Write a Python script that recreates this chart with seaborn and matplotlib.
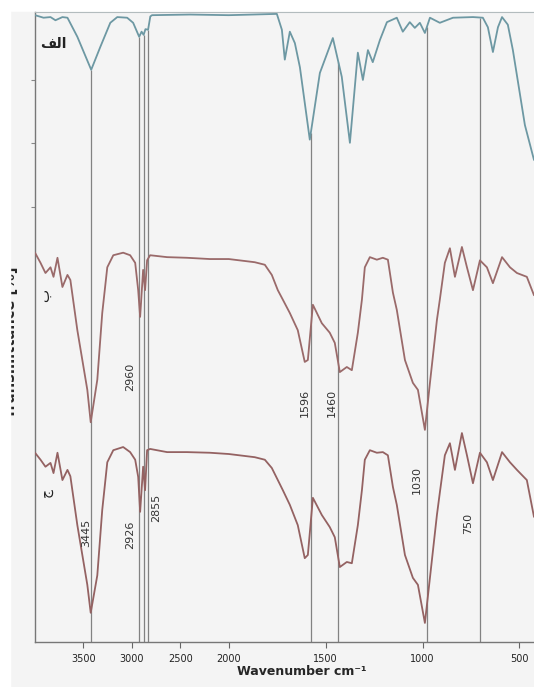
import numpy as np
import pandas as pd
import seaborn as sns
import matplotlib
matplotlib.use("Agg")
import matplotlib.pyplot as plt
from matplotlib.patches import Rectangle

#%% DATA
# trace "alef" (top)
wn_a = [4000, 3912, 3840, 3789, 3717, 3665, 3563, 3420, 3326, 3223, 3151, 3049,
        2987, 2925, 2900, 2879, 2860, 2833, 2810, 2792, 2400, 2000, 1752, 1726,
        1711, 1685, 1659, 1633, 1582, 1530, 1463, 1417, 1375, 1334, 1308, 1282,
        1257, 1220, 1184, 1133, 1102, 1066, 1040, 1014, 988, 962, 911, 843, 740,
        689, 663, 637, 611, 590, 560, 534, 472, 425]
tr_a = [100.2, 99.8, 99.9, 99.4, 99.9, 99.8, 96.8, 91.6, 95.2, 99.0, 99.9, 99.8,
        99.0, 96.8, 97.6, 97.1, 98.0, 97.9, 100.0, 100.2, 100.3, 100.2, 100.4, 97.9,
        93.2, 97.6, 95.8, 92.0, 80.6, 91.1, 96.6, 90.5, 80.1, 94.3, 90.0, 94.7,
        92.8, 96.3, 99.1, 99.8, 97.6, 99.1, 98.2, 99.0, 97.4, 99.8, 99.0, 99.8, 99.9,
        99.8, 98.3, 94.4, 98.3, 99.9, 98.7, 94.7, 82.9, 77.4]

# traces "be" (middle) and "jim" (bottom) share the same wavenumbers
wn_bc = [4000, 3943, 3892, 3840, 3809, 3768, 3717, 3665, 3635, 3563, 3460, 3425,
         3357, 3306, 3254, 3192, 3090, 3018, 2966, 2935, 2915, 2884, 2864, 2843,
         2812, 2637, 2432, 2195, 2000, 1866, 1814, 1778, 1747, 1721, 1685, 1644,
         1608, 1592, 1566, 1520, 1479, 1453, 1427, 1391, 1365, 1334, 1313, 1298,
         1272, 1236, 1205, 1179, 1153, 1133, 1091, 1050, 1024, 988, 962, 926, 911,
         885, 859, 833, 797, 771, 740, 704, 668, 637, 590, 549, 513, 462, 425]
tr_b = [62.8, 61.2, 59.6, 60.5, 59.0, 62.0, 57.4, 59.3, 58.5, 50.6, 41.2, 36.1,
        42.8, 53.3, 60.5, 62.4, 62.8, 62.4, 61.2, 56.9, 52.7, 60.1, 56.9, 61.6,
        62.4, 62.1, 62.0, 61.8, 61.8, 61.3, 60.9, 59.3, 56.9, 55.4, 53.3, 50.6,
        45.6, 45.9, 54.6, 51.7, 50.2, 48.6, 44.0, 44.8, 44.3, 50.2, 55.4, 60.5,
        62.1, 61.7, 62.0, 61.7, 56.5, 53.8, 45.9, 42.3, 41.2, 34.9, 42.3, 52.2, 55.4,
        61.2, 63.5, 59.0, 63.7, 60.5, 56.9, 61.6, 60.5, 58.0, 62.1, 60.5, 59.6, 59.0, 56.1]
tr_c = [31.3, 30.2, 29.1, 29.7, 28.1, 31.3, 27.0, 28.6, 27.6, 19.9, 10.5, 6.1,
        12.0, 22.3, 29.8, 31.7, 32.2, 31.4, 30.2, 27.5, 22.0, 29.1, 25.4, 31.7,
        31.9, 31.4, 31.4, 31.3, 31.1, 30.6, 30.2, 28.9, 27.0, 25.4, 23.1, 19.9,
        14.7, 15.2, 24.2, 21.5, 19.6, 18.0, 13.3, 14.1, 13.9, 19.9, 25.4, 30.2,
        31.7, 31.3, 31.4, 30.9, 25.9, 23.1, 15.2, 11.6, 10.5, 4.5, 11.6, 21.5, 25.0,
        30.9, 32.8, 28.6, 34.4, 30.9, 26.5, 31.3, 29.8, 27.0, 31.4, 29.8, 28.6, 27.0, 21.2]

# marked bands
peak_pos = [3420, 2925, 2879, 2833, 1577, 1435, 978, 704]
peak_labels = ['3445', '2960', '2926', '2855', '1596', '1460', '1030', '750']
peak_text_x = [3470, 3018, 3018, 2750, 1608, 1468, 1029, 766]
peak_text_y = [18.7, 43.2, 18.3, 22.6, 39.1, 39.1, 27.0, 20.1]

xticks = [3500, 3000, 2500, 2000, 1500, 1000, 500]

# sample names (Arabic letters, shaped forms for matplotlib)
name_a = '\ufed2\ufedf\ufe8d'   # الف
name_b = '\u0628'               # ب
name_c = '\u062c'               # ج

#%% PLOT
sns.set_theme(style='ticks')
plt.rcParams['font.family'] = ['DejaVu Sans']

df = pd.concat([
    pd.DataFrame({'wn': wn_a, 'T': tr_a, 'sample': 'a'}),
    pd.DataFrame({'wn': wn_bc, 'T': tr_b, 'sample': 'b'}),
    pd.DataFrame({'wn': wn_bc, 'T': tr_c, 'sample': 'c'}),
], ignore_index=True)

fig = plt.figure(figsize=(5.34, 6.87), dpi=100)
fig.patch.set_facecolor('white')
fig.add_artist(Rectangle((10/534, 0), 1, 675/687, transform=fig.transFigure,
                         color='#f4f4f4', zorder=-10))
ax = fig.add_axes([35/534, 45/687, 499/534, 630/687])
ax.set_facecolor('#f4f4f4')

sns.lineplot(data=df, x='wn', y='T', hue='sample',
             palette={'a': '#6d98a3', 'b': '#9a6a6a', 'c': '#946262'},
             estimator=None, sort=False, lw=1.3, legend=False, ax=ax, zorder=3)

# broken wavenumber axis: half scale above 2000
def fwd(x):
    x = np.asarray(x, dtype=float)
    return np.where(x > 2000, 2000 + (x - 2000) * 0.5, x)

def inv(x):
    x = np.asarray(x, dtype=float)
    return np.where(x > 2000, 2000 + (x - 2000) / 0.5, x)

ax.set_xscale('function', functions=(fwd, inv))
ax.set_xlim(4000, 425)
ax.set_ylim(1.5, 100.7)

# band lines from bottom up to the top trace
tops = np.interp(peak_pos, wn_a[::-1], tr_a[::-1])
ax.vlines(peak_pos, ymin=1.5, ymax=tops, color='#828282', lw=0.9, zorder=2)
for x, y, s in zip(peak_text_x, peak_text_y, peak_labels):
    ax.text(x, y, s, rotation=90, ha='center', va='center', fontsize=8, color='#333333')

ax.text(3809, 95.7, name_a, ha='center', va='center', fontsize=10, fontweight='bold', color='#222222')
ax.text(3902, 56.1, name_b, rotation=90, ha='center', va='center', fontsize=10, color='#222222')
ax.text(3892, 25.1, name_c, rotation=90, ha='center', va='center', fontsize=10, color='#222222')

ax.set_xticks(xticks)
ax.set_xticklabels([str(t) for t in xticks])
ax.set_yticks([70, 80, 90])
ax.set_yticklabels([])
ax.tick_params(axis='x', length=4, width=0.8, color='#666666', labelsize=7, pad=5, labelcolor='#222222')
ax.tick_params(axis='y', length=3, width=0.8, color='#888888')

ax.set_xlabel('Wavenumber cm\u207b\u00b9', fontsize=9, fontweight='bold')
ax.xaxis.set_label_coords(0.535, -0.036)
ax.set_ylabel('Transmittance [%]', fontsize=10.5, fontweight='bold')
ax.yaxis.set_label_coords(-0.034, 0.475)

for side in ['left', 'bottom']:
    ax.spines[side].set_color('#777777')
    ax.spines[side].set_linewidth(1.0)
ax.spines['top'].set_color('#b3bcbe')
ax.spines['top'].set_linewidth(0.8)
ax.spines['right'].set_visible(False)

# white strip at the left edge, as in the scan
fig.add_artist(Rectangle((0, 0), 10/534, 1, transform=fig.transFigure,
                         color='white', zorder=20))

plt.savefig('out.png', dpi=100)
